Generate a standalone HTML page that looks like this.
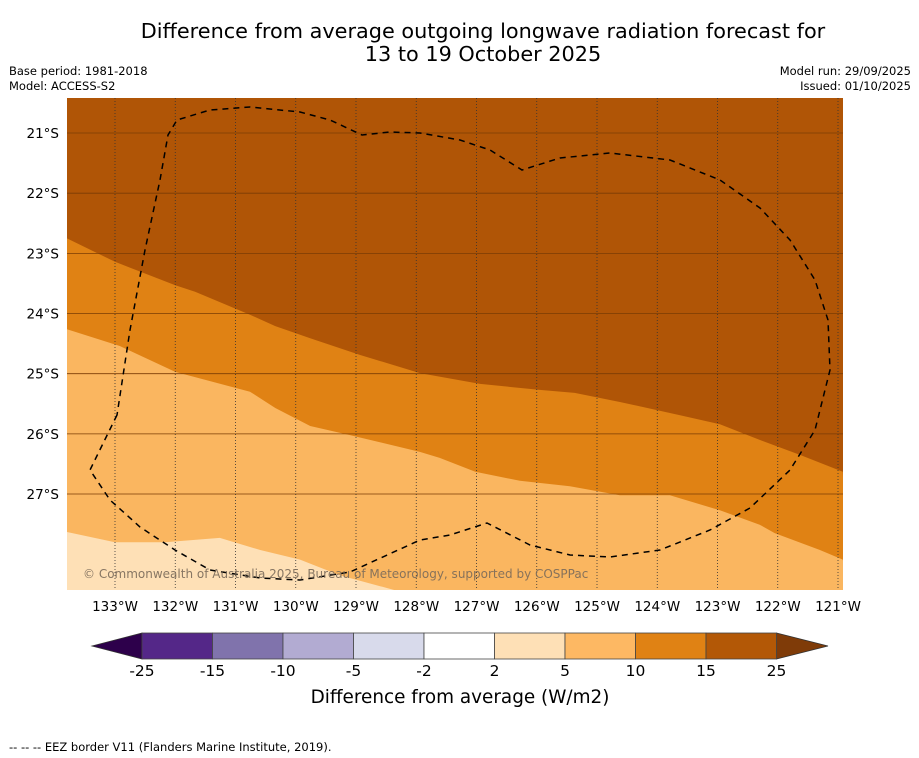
<!DOCTYPE html>
<html><head><meta charset="utf-8"><style>
body{margin:0;background:#fff;font-family:"Liberation Sans","DejaVu Sans",sans-serif;}
svg{display:block}
</style></head><body>
<svg width="919" height="758" xmlns="http://www.w3.org/2000/svg" font-family="DejaVu Sans, Liberation Sans, sans-serif">
<rect width="919" height="758" fill="#fff"/>
<text x="483" y="38" font-size="20.8" text-anchor="middle">Difference from average outgoing longwave radiation forecast for</text>
<text x="483" y="61" font-size="20.8" text-anchor="middle">13 to 19 October 2025</text>
<text x="9" y="75" font-size="11.5">Base period: 1981-2018</text>
<text x="9" y="90" font-size="11.5">Model: ACCESS-S2</text>
<text x="911" y="75" font-size="11.5" text-anchor="end">Model run: 29/09/2025</text>
<text x="911" y="90" font-size="11.5" text-anchor="end">Issued: 01/10/2025</text>
<g id="map"></g>
<g id="cbar"></g>
<text x="460" y="703" font-size="18.4" text-anchor="middle">Difference from average (W/m2)</text>
<text x="9" y="751" font-size="11.5">--  --  -- EEZ border V11 (Flanders Marine Institute, 2019).</text>
</svg>
<script>
const lonTicks=[133,132,131,130,129,128,127,126,125,124,123,122,121];
const latTicks=[21,22,23,24,25,26,27];
const b15Lon=[133.80,133,132.0,131.67,130.76,130.34,129.76,128.93,127.94,126.94,125.95,125.37,124.62,123.62,122.96,122.30,121.63,120.92];
const b15Lat=[22.75,23.14,23.53,23.64,24.02,24.21,24.41,24.69,24.99,25.17,25.27,25.32,25.47,25.69,25.84,26.10,26.35,26.63];
const b10Lon=[133.80,132.92,132.0,130.76,130.34,129.76,129.10,127.94,127.61,127.02,126.28,125.45,124.62,123.79,122.96,122.30,122.05,121.30,120.92];
const b10Lat=[24.26,24.54,24.97,25.30,25.57,25.87,26.02,26.30,26.40,26.63,26.78,26.87,27.02,27.02,27.27,27.51,27.65,27.93,28.09];
const b5Lon=[133.80,133,132.17,131.26,130.59,129.93,129.27,128.35];
const b5Lat=[27.63,27.80,27.80,27.73,27.93,28.09,28.35,28.60];
const levels=[-25,-15,-10,-5,-2,2,5,10,15,25];
const cbColors=["#542788","#8073ac","#b2abd2","#d8daeb","#ffffff","#fee0b6","#fdb863","#e08214","#b35806"];
const NS="http://www.w3.org/2000/svg";
const X0=67,X1=843,Y0=98,Y1=590;
const xs=lon=>115+(133-lon)*60.25;
const ys=lat=>133+(lat-21)*60.17;
function mk(t,a,p){const e=document.createElementNS(NS,t);for(const k in a)e.setAttribute(k,a[k]);p.appendChild(e);return e;}
const map=document.getElementById('map');
const cp=mk('clipPath',{id:'mc'},map);mk('rect',{x:X0,y:Y0,width:X1-X0,height:Y1-Y0},cp);
const g=mk('g',{'clip-path':'url(#mc)'},map);
let r=mk('rect',{x:X0,y:Y0,width:X1-X0,height:Y1-Y0,fill:'#b05506'},g);

function band(lons,lats,fill,name){
 let d='M'+lons.map((l,i)=>xs(l).toFixed(1)+','+ys(lats[i]).toFixed(1)).join(' L');
 d+=' L'+(X1+5)+','+(Y1+5)+' L'+(X0-5)+','+(Y1+5)+' Z';
 const p=mk('path',{d:d,fill:fill},g);
 
 
}
band(b15Lon,b15Lat,'#e08214','band-10-15');
band(b10Lon,b10Lat,'#fab660','band-5-10');
band(b5Lon,b5Lat,'#fee0b6','band-2-5');
latTicks.forEach(l=>{const y=ys(l);
 const ln=mk('line',{x1:X0,x2:X1,y1:y,y2:y,stroke:'#7a3c05','stroke-width':0.8},g);
 
 const t=mk('text',{x:59,y:y+5,'font-size':13.5,'text-anchor':'end'},map);t.textContent=l+'°S';
 });
lonTicks.forEach(l=>{const x=xs(l);
 const ln=mk('line',{x1:x,x2:x,y1:Y0,y2:Y1,stroke:'#333','stroke-width':0.8,'stroke-dasharray':'1,2'},g);
 
 const t=mk('text',{x:x,y:611,'font-size':13.5,'text-anchor':'middle'},map);t.textContent=l+'°W';
 });
const eez=mk('path',{d:'M117,415 L90,470 L110,500 L140,527 L175,550 L210,570 L260,578 L300,580 L350,572 L420,540 L450,535 L487,523 L530,545 L570,555 L610,557 L660,550 L710,530 L750,508 L790,470 L815,430 L830,370 L828,320 L815,280 L790,240 L760,208 L720,180 L670,160 L610,153 L560,158 L522,170 L490,150 L460,140 L420,133 L390,132 L362,135 L330,120 L300,112 L250,107 L210,110 L177,120 L168,135 L160,180 L145,250 L130,330 Z',fill:'none',stroke:'#000','stroke-width':1.5,'stroke-dasharray':'6,5'},g);

const cr=mk('text',{x:83,y:578,'font-size':12,fill:'#7a6a5a','fill-opacity':0.9},map);
cr.textContent='© Commonwealth of Australia 2025, Bureau of Meteorology, supported by COSPPac';

const cb=document.getElementById('cbar');
const CX0=142,SW=70.5,CY=633,CH=26;
mk('polygon',{points:`92,646 ${CX0},${CY} ${CX0},${CY+CH}`,fill:'#2d004b',stroke:'#333','stroke-width':0.8},cb);
mk('polygon',{points:`${CX0+SW*9},${CY} 828,646 ${CX0+SW*9},${CY+CH}`,fill:'#7f3b08',stroke:'#333','stroke-width':0.8},cb);
cbColors.forEach((c,i)=>{const s=mk('rect',{x:CX0+i*SW,y:CY,width:SW,height:CH,fill:c,stroke:'#444','stroke-width':0.8},cb);
 });
levels.forEach((v,i)=>{const t=mk('text',{x:CX0+i*SW,y:676,'font-size':15.5,'text-anchor':'middle'},cb);t.textContent=v;
 });
</script>
</body></html>
